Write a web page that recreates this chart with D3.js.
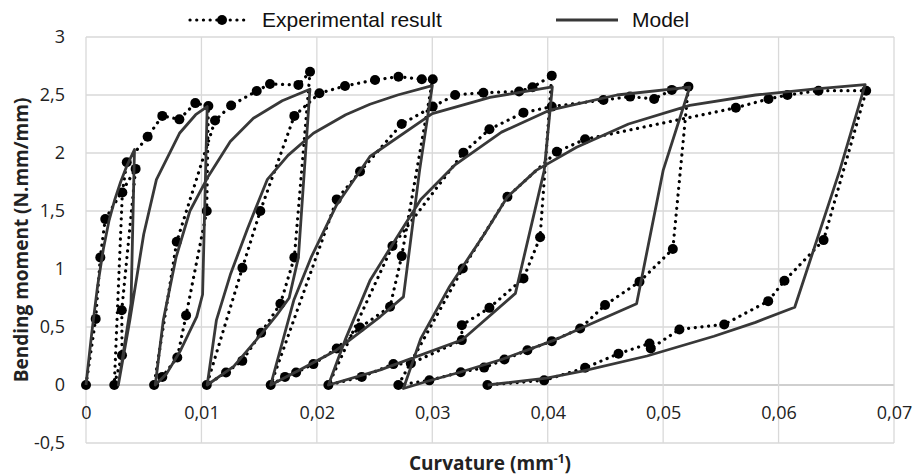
<!DOCTYPE html>
<html><head><meta charset="utf-8">
<script src="https://cdn.jsdelivr.net/npm/d3@7"></script>
<style>body{margin:0;background:#fff}</style></head>
<body><svg id="c" width="913" height="476"></svg>
<script>
// ---- data ----
const xTicks = [0, 0.01, 0.02, 0.03, 0.04, 0.05, 0.06, 0.07];
const yTicks = [-0.5, 0, 0.5, 1, 1.5, 2, 2.5, 3];
const seriesNames = ["Experimental result", "Model"];

const expCurvature = [
  0, 0.00084, 0.00124, 0.00167, 0.0043,
  0.0031, 0.00312, 0.00245,
  0.00315, 0.00353, 0.00534, 0.00661, 0.00809, 0.00947, 0.0106,
  0.01046, 0.00867, 0.00791, 0.00661, 0.0059,
  0.00786, 0.01118, 0.01257, 0.01479, 0.01594, 0.0184, 0.01941,
  0.01805, 0.01684, 0.01517, 0.01354, 0.01213, 0.01046,
  0.01355, 0.0151, 0.01805, 0.02022, 0.02244, 0.02504, 0.02707, 0.02909, 0.03004,
  0.02735, 0.02634, 0.02374, 0.02172, 0.0197, 0.0182, 0.01724, 0.016,
  0.02172, 0.02374, 0.02735, 0.03004, 0.03198, 0.03443, 0.03752, 0.03868, 0.04035,
  0.03934, 0.0379, 0.03495, 0.03256, 0.03256, 0.02814, 0.02663, 0.02389, 0.021,
  0.02655, 0.0327, 0.03495, 0.0379, 0.04035, 0.04483, 0.04714, 0.04922, 0.05075, 0.05219,
  0.05084, 0.04795, 0.04497, 0.04281, 0.04035, 0.03824, 0.03625, 0.03449, 0.03247, 0.02975, 0.02706,
  0.03264, 0.03651, 0.04079, 0.04324, 0.0563, 0.05913, 0.06077, 0.06346, 0.06759,
  0.0639, 0.06051, 0.0591, 0.05529, 0.05141, 0.04893, 0.04882, 0.04613, 0.04324, 0.03969, 0.03478
];
const expMoment = [
  0, 0.57, 1.10, 1.43, 1.863,
  0.645, 0.257, 0,
  1.66, 1.92, 2.14, 2.32, 2.29, 2.43, 2.405,
  1.50, 0.60, 0.237, 0.07, 0,
  1.235, 2.28, 2.41, 2.535, 2.595, 2.587, 2.70,
  1.10, 0.70, 0.45, 0.208, 0.108, 0,
  1.01, 1.50, 2.32, 2.515, 2.578, 2.63, 2.658, 2.636, 2.636,
  1.111, 0.674, 0.496, 0.315, 0.18, 0.108, 0.07, 0,
  1.60, 1.84, 2.25, 2.40, 2.50, 2.52, 2.53, 2.567, 2.667,
  1.273, 0.919, 0.665, 0.516, 0.387, 0.185, 0.18, 0.07, 0,
  1.198, 2.003, 2.204, 2.348, 2.40, 2.457, 2.486, 2.466, 2.544, 2.572,
  1.172, 0.89, 0.689, 0.487, 0.378, 0.30, 0.22, 0.15, 0.11, 0.04, 0,
  1.005, 1.623, 2.011, 2.118, 2.39, 2.466, 2.50, 2.537, 2.537,
  1.249, 0.898, 0.723, 0.522, 0.479, 0.315, 0.358, 0.27, 0.148, 0.04, 0
];

const modelCurvature = [
  0, 0.0005, 0.001, 0.0015, 0.002, 0.0025, 0.003, 0.0035, 0.0042,
  0.0039, 0.0028,
  0.0038, 0.005, 0.0061, 0.0081, 0.0095, 0.0105,
  0.0101, 0.0096, 0.0082, 0.007, 0.006,
  0.0067, 0.0078, 0.009, 0.0106, 0.0125, 0.0145, 0.017, 0.0194,
  0.0184, 0.0176, 0.0165, 0.0152, 0.0128, 0.0105,
  0.0113, 0.0125, 0.014, 0.0157, 0.0175, 0.0197, 0.0225, 0.0246, 0.027, 0.030,
  0.0289, 0.0275, 0.0255, 0.0217, 0.0185, 0.016,
  0.018, 0.0195, 0.0217, 0.0246, 0.030, 0.035, 0.0404,
  0.0397, 0.0372, 0.0326, 0.0255, 0.021,
  0.0225, 0.0246, 0.0266, 0.029, 0.032, 0.036, 0.0402, 0.046, 0.0523,
  0.050, 0.0477, 0.0445, 0.0404, 0.036, 0.0324, 0.0295, 0.0275,
  0.029, 0.0315, 0.0345, 0.0365, 0.039, 0.0425, 0.047, 0.0523, 0.058, 0.063, 0.0675,
  0.0653, 0.0614, 0.058, 0.0544, 0.0486, 0.043, 0.0399, 0.0348
];
const modelMoment = [
  0, 0.45, 0.85, 1.17, 1.42, 1.6, 1.75, 1.88, 2.03,
  0.7, 0,
  0.56, 1.3, 1.77, 2.17, 2.33, 2.40,
  0.78, 0.59, 0.30, 0.10, 0,
  0.56, 1.1, 1.5, 1.8, 2.1, 2.3, 2.45, 2.55,
  1.1, 0.75, 0.6, 0.44, 0.16, 0,
  0.56, 0.95, 1.35, 1.77, 1.98, 2.17, 2.33, 2.42, 2.5, 2.58,
  1.85, 0.76, 0.59, 0.30, 0.13, 0,
  0.73, 1.1, 1.55, 1.97, 2.34, 2.48, 2.57,
  1.85, 0.79, 0.39, 0.13, 0,
  0.4, 0.9, 1.22, 1.6, 1.9, 2.18, 2.37, 2.5, 2.567,
  1.85, 0.70, 0.56, 0.38, 0.22, 0.11, 0.03, -0.03,
  0.4, 0.85, 1.3, 1.62, 1.85, 2.05, 2.25, 2.41, 2.5, 2.55, 2.59,
  1.85, 0.67, 0.54, 0.42, 0.25, 0.12, 0.06, 0
];

// ---- chart ----
const svg = d3.select("#c");
const x = d3.scaleLinear().domain([0, 0.07]).range([86, 894]);
const y = d3.scaleLinear().domain([-0.5, 3]).range([443, 37]);
const fmt = d => String(d).replace(".", ",");

// gridlines
svg.append("g").selectAll("line").data(yTicks).join("line")
  .attr("x1", x(0)).attr("x2", x(0.07))
  .attr("y1", d => y(d)).attr("y2", d => y(d))
  .attr("stroke", d => d === 0 ? "#bfbfbf" : "#d9d9d9").attr("stroke-width", 1.3);
svg.append("g").selectAll("line").data(xTicks).join("line")
  .attr("x1", d => x(d)).attr("x2", d => x(d))
  .attr("y1", y(3)).attr("y2", y(-0.5))
  .attr("stroke", "#d9d9d9").attr("stroke-width", 1.3);

// axes labels
const xAxis = svg.append("g").attr("transform", `translate(0,${y(0)})`)
  .call(d3.axisBottom(x).tickValues(xTicks).tickFormat(fmt).tickSize(0).tickPadding(21));
const yAxis = svg.append("g").attr("transform", `translate(${x(0)},0)`)
  .call(d3.axisLeft(y).tickValues(yTicks).tickFormat(fmt).tickSize(0).tickPadding(21));
[xAxis, yAxis].forEach(a => {
  a.select(".domain").remove();
  a.selectAll("text").attr("font-family", "'Open Sans', sans-serif").attr("font-size", 18).attr("fill", "#222");
});

// lines
const expPts = expCurvature.map((c, i) => [c, expMoment[i]]);
const modPts = modelCurvature.map((c, i) => [c, modelMoment[i]]);
const line = d3.line().x(d => x(d[0])).y(d => y(d[1]));

svg.append("path").attr("d", line(expPts)).attr("fill", "none")
  .attr("stroke", "#000").attr("stroke-width", 3.2)
  .attr("stroke-linecap", "round").attr("stroke-dasharray", "0.1 6.6");
svg.append("g").selectAll("circle").data(expPts).join("circle")
  .attr("cx", d => x(d[0])).attr("cy", d => y(d[1])).attr("r", 5).attr("fill", "#000");
svg.append("path").attr("d", line(modPts)).attr("fill", "none")
  .attr("stroke", "#383838").attr("stroke-width", 2.8).attr("stroke-linejoin", "round");

// axis titles
svg.append("text").attr("x", 490).attr("y", 470).attr("text-anchor", "middle")
  .attr("font-family", "'Open Sans', sans-serif").attr("font-weight", "bold").attr("font-size", 19).attr("fill", "#222")
  .call(t => {
    t.append("tspan").text("Curvature (mm");
    t.append("tspan").attr("dy", -7).attr("font-size", 12).text("-1");
    t.append("tspan").attr("dy", 7).text(")");
  });
svg.append("text").attr("transform", `translate(28,${(y(3) + y(-0.5)) / 2}) rotate(-90)`)
  .attr("text-anchor", "middle")
  .attr("font-family", "'Open Sans', sans-serif").attr("font-weight", "bold").attr("font-size", 19).attr("fill", "#222")
  .text("Bending moment (N.mm/mm)");

// legend
const lg = svg.append("g").attr("font-family", "'Liberation Sans', Arial, sans-serif").attr("font-size", 21).attr("fill", "#111");
lg.append("line").attr("x1", 190).attr("x2", 250).attr("y1", 20).attr("y2", 20)
  .attr("stroke", "#000").attr("stroke-width", 3.2).attr("stroke-linecap", "round").attr("stroke-dasharray", "0.1 6.6");
lg.append("circle").attr("cx", 222).attr("cy", 20).attr("r", 5).attr("fill", "#000");
lg.append("text").attr("x", 262).attr("y", 27).text(seriesNames[0]);
lg.append("line").attr("x1", 556).attr("x2", 618).attr("y1", 20).attr("y2", 20)
  .attr("stroke", "#383838").attr("stroke-width", 2.8);
lg.append("text").attr("x", 632).attr("y", 27).text(seriesNames[1]);
</script></body></html>
